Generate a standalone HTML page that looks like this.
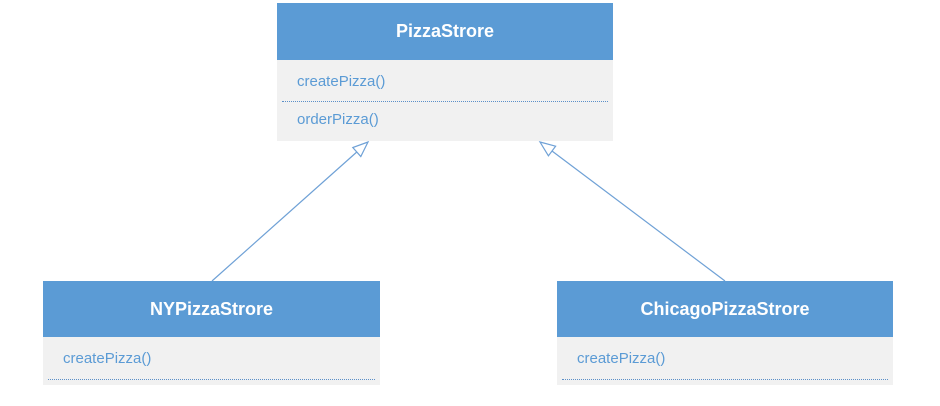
<!DOCTYPE html>
<html><head><style>
body{margin:0;width:940px;height:406px;background:#fff;font-family:"Liberation Sans",sans-serif;position:relative;overflow:hidden}
.box{position:absolute;background:#f1f1f1}
.hd{background:#5b9bd5;color:#fff;font-weight:bold;font-size:18px;text-align:center}
.t{position:absolute;color:#5b9bd5;font-size:15px}
.sep{position:absolute;border-top:1px dotted #5b8fc8}
</style></head><body>
<svg width="940" height="406" style="position:absolute;left:0;top:0">
<g stroke="#6fa1d6" stroke-width="1.2" fill="#fff">
<line x1="212" y1="281" x2="356.8" y2="152"/>
<polygon points="368,142 360.8,156.5 352.8,147.5"/>
<line x1="725" y1="281" x2="552" y2="151"/>
<polygon points="540,142 555.6,146.2 548.4,155.8"/>
</g></svg>
<div class="box" style="left:277px;top:3px;width:336px;height:138px">
<div class="hd" style="height:57px;line-height:57px">PizzaStrore</div>
<div class="t" style="left:20px;top:70px">createPizza()</div>
<div class="sep" style="left:5px;right:5px;top:98px"></div>
<div class="t" style="left:20px;top:108px">orderPizza()</div>
</div>
<div class="box" style="left:43px;top:281px;width:337px;height:104px">
<div class="hd" style="height:56px;line-height:56px">NYPizzaStrore</div>
<div class="t" style="left:20px;top:69px">createPizza()</div>
<div class="sep" style="left:5px;right:5px;top:98px"></div>
</div>
<div class="box" style="left:557px;top:281px;width:336px;height:104px">
<div class="hd" style="height:56px;line-height:56px">ChicagoPizzaStrore</div>
<div class="t" style="left:20px;top:69px">createPizza()</div>
<div class="sep" style="left:5px;right:5px;top:98px"></div>
</div>
</body></html>
